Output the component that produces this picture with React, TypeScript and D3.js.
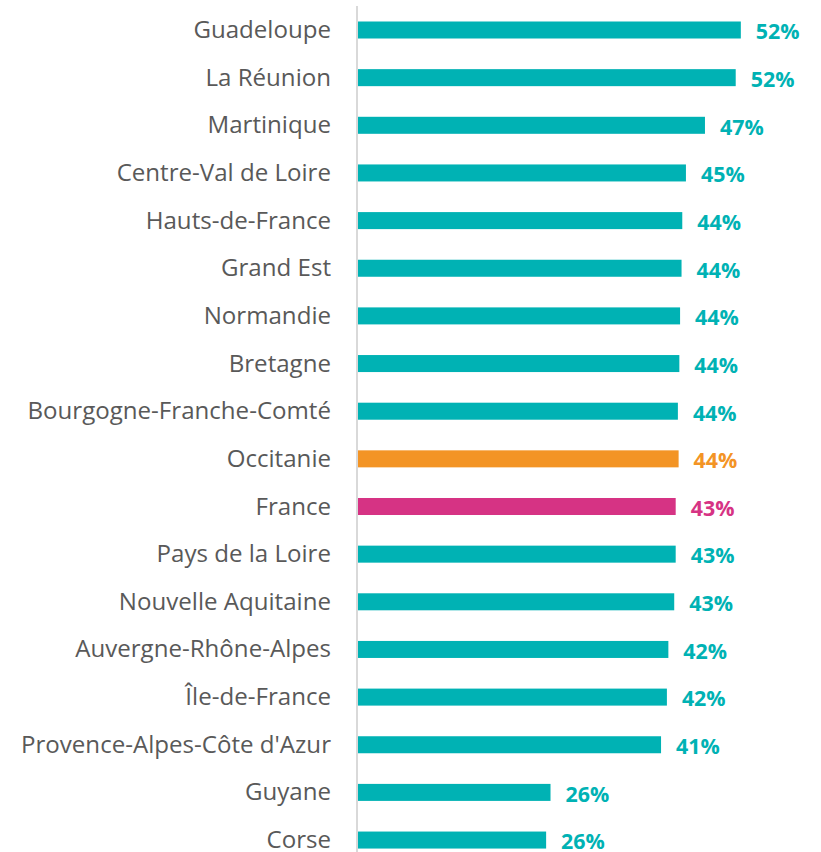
import React from "react";
import * as d3 from "d3";

const categories = [
  "Guadeloupe", "La Réunion", "Martinique", "Centre-Val de Loire", "Hauts-de-France",
  "Grand Est", "Normandie", "Bretagne", "Bourgogne-Franche-Comté", "Occitanie",
  "France", "Pays de la Loire", "Nouvelle Aquitaine", "Auvergne-Rhône-Alpes",
  "Île-de-France", "Provence-Alpes-Côte d'Azur", "Guyane", "Corse",
];
const values = [
  52.3, 51.6, 47.4, 44.8, 44.3, 44.2, 44.0, 43.9, 43.7, 43.8,
  43.4, 43.4, 43.2, 42.4, 42.2, 41.4, 26.3, 25.7,
];
const valueLabels = [
  "52%", "52%", "47%", "45%", "44%", "44%", "44%", "44%", "44%", "44%",
  "43%", "43%", "43%", "42%", "42%", "41%", "26%", "26%",
];
const highlight: Record<string, string> = { Occitanie: "#f39425", France: "#d63384" };
const baseColor = "#00b2b4";

export default function App() {
  const W = 821, H = 852;
  const x0 = 358;
  const x = d3.scaleLinear().domain([0, 60]).range([x0, x0 + 60 * 7.32]);
  const step = 47.65;
  const y = d3
    .scaleBand<string>()
    .domain(categories)
    .range([30 - step / 2, 30 - step / 2 + step * categories.length])
    .paddingInner(0.643)
    .paddingOuter(0.3215);
  return (
    <svg width={W} height={H} style={{ position: "absolute", left: 0, top: 0, background: "#fff" }}
      fontFamily="'Open Sans', sans-serif">
      <line x1={357} x2={357} y1={6} y2={H} stroke="#d9d9d9" strokeWidth={2} />
      {categories.map((c, i) => {
        const yb = y(c)!;
        const cy = yb + y.bandwidth() / 2;
        const col = highlight[c] || baseColor;
        return (
          <g key={c}>
            <text x={331} y={cy + 8} textAnchor="end" fontSize={24.1} fill="#595959">{c}</text>
            <rect x={x(0)} y={yb} width={x(values[i]) - x(0)} height={y.bandwidth()} fill={col} />
            <text x={x(values[i]) + 15} y={cy + 9.3} fontSize={21.4} fontWeight={700} fill={col}>{valueLabels[i]}</text>
          </g>
        );
      })}
    </svg>
  );
}
